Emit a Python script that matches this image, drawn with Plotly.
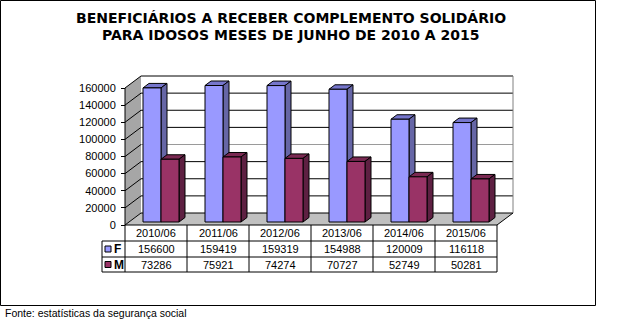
import plotly.graph_objects as go

# ---- data -------------------------------------------------------------
periods = ["2010/06", "2011/06", "2012/06", "2013/06", "2014/06", "2015/06"]
fem = [156600, 159419, 159319, 154988, 120009, 116118]
masc = [73286, 75921, 74274, 70727, 52749, 50281]
y_ticks = [0, 20000, 40000, 60000, 80000, 100000, 120000, 140000, 160000]

title_lines = [
    "BENEFICIÁRIOS A RECEBER COMPLEMENTO SOLIDÁRIO",
    "PARA IDOSOS MESES DE JUNHO DE 2010 A 2015",
]
source_text = "Fonte: estatísticas da segurança social"

# ---- geometry of the pseudo-3D frame ------------------------------------
W, H = 628, 331
AX_X = 125            # front-left corner of the floor (px)
ZERO_Y = 225          # front zero line (px)
SLOT = 62             # px per category
PX_PER_UNIT = 137 / 160000
Y_TOP = y_ticks[-1]
FONT = "Liberation Sans, Arial, sans-serif"
TITLE_FONT = "DejaVu Sans, Arial, sans-serif"


def xd(px):
    return (px - AX_X) / SLOT - 0.5


def yd(py):
    return (ZERO_Y - py) / PX_PER_UNIT


def cdx(n):
    return n / SLOT


def vdy(n):
    return n / PX_PER_UNIT


def yp(py):
    return 1 - py / H


def xp(px):
    return px / W


DWX, DWY = cdx(16), vdy(12)      # wall depth
BX, BY = cdx(5), vdy(3)          # bar front-face offset into the depth
SX, SY = cdx(6), vdy(4.5)        # bar thickness in depth
HALF = 18 / SLOT                 # bar width in category units
xL, xR = -0.5, len(periods) - 0.5

fig = go.Figure()


def add_faces(values, left_off, front, side, top):
    fx, fy, sx_, sy_, tx, ty = [], [], [], [], [], []
    for i, v in enumerate(values):
        a = i + left_off + BX
        b = a + HALF
        y0, y1 = BY, v + BY
        fx += [a, b, b, a, a, None]
        fy += [y0, y0, y1, y1, y0, None]
        sx_ += [b, b + SX, b + SX, b, b, None]
        sy_ += [y0, y0 + SY, y1 + SY, y1, y0, None]
        tx += [a, b, b + SX, a + SX, a, None]
        ty += [y1, y1, y1 + SY, y1 + SY, y1, None]
    for xs, ys, col in ((tx, ty, top), (sx_, sy_, side), (fx, fy, front)):
        fig.add_trace(go.Scatter(
            x=xs, y=ys, mode="lines", fill="toself", fillcolor=col,
            line=dict(color="black", width=1), hoverinfo="skip",
            showlegend=False,
        ))


add_faces(fem, -HALF, "#9999FF", "#6666A6", "#7676CC")
add_faces(masc, 0, "#993366", "#5E2042", "#7A2952")

shapes = []


def line(x0, y0, x1, y1, color="black", layer="below", xref="x", yref="y", width=1):
    shapes.append(dict(type="line", x0=x0, y0=y0, x1=x1, y1=y1, xref=xref,
                       yref=yref, layer=layer,
                       line=dict(color=color, width=width)))


# walls and floor
shapes.append(dict(type="path", xref="x", yref="y", layer="below",
                   path=f"M {xL},0 L {xL},{Y_TOP} L {xL+DWX},{Y_TOP+DWY} L {xL+DWX},{DWY} Z",
                   fillcolor="#A6A6A6", line=dict(width=0)))
shapes.append(dict(type="path", xref="x", yref="y", layer="below",
                   path=f"M {xL},0 L {xR},0 L {xR+DWX},{DWY} L {xL+DWX},{DWY} Z",
                   fillcolor="#C0C0C0", line=dict(width=0)))
shapes.append(dict(type="rect", xref="x", yref="y", layer="below",
                   x0=xL + DWX, x1=xR + DWX, y0=DWY, y1=Y_TOP + DWY,
                   fillcolor="white", line=dict(width=0)))
for v in y_ticks:
    col = "#9A9A9A" if v == 80000 else "black"
    line(xL + DWX, v + DWY, xR + DWX, v + DWY, color=col)
    line(xL, v, xL + DWX, v + DWY)
line(xR + DWX, DWY, xR + DWX, Y_TOP + DWY, color="#808080")
line(xR, 0, xR + DWX, DWY)
line(xL, 0, xL, Y_TOP)

# data table grid
row_y = [ZERO_Y, 241, 257, 272]
line(xL, 0, xR, 0, layer="above")
lab_x = xd(102)
for py in row_y[1:]:
    line(lab_x, yp(py), xR, yp(py), layer="above", yref="paper")
for k in range(len(periods) + 1):
    line(xL + k, yp(ZERO_Y), xL + k, yp(row_y[-1]), layer="above", yref="paper")
line(lab_x, yp(row_y[1]), lab_x, yp(row_y[-1]), layer="above", yref="paper")

annotations = []


def text(x, y, s, size=11, bold=False, xref="x", yref="paper",
         xanchor="center", family=FONT):
    annotations.append(dict(
        x=x, y=y, xref=xref, yref=yref, text=f"<b>{s}</b>" if bold else s,
        showarrow=False, xanchor=xanchor, yanchor="middle",
        font=dict(family=family, size=size, color="black"),
    ))


row_mid = [(row_y[j] + row_y[j + 1]) / 2 for j in range(3)]
for i, p in enumerate(periods):
    text(i, yp(row_mid[0]), p)
    text(i, yp(row_mid[1]), str(fem[i]))
    text(i, yp(row_mid[2]), str(masc[i]))

# series keys in the table
for j, (name, col) in enumerate((("F", "#9999FF"), ("M", "#993366"))):
    cy = row_mid[j + 1]
    shapes.append(dict(type="rect", xref="x", yref="paper", layer="above",
                       x0=xd(105), x1=xd(111), y0=yp(cy + 3), y1=yp(cy - 3),
                       fillcolor=col, line=dict(color="black", width=1)))
    text(xd(112), yp(cy), name, size=12, bold=True, xanchor="left")

# title and source
text(xp(291), yp(18), title_lines[0], size=14, bold=True, xref="paper",
     family=TITLE_FONT)
text(xp(291), yp(35), title_lines[1], size=14, bold=True, xref="paper",
     family=TITLE_FONT)
text(xp(3), yp(313), source_text, size=10.5, xref="paper", xanchor="left")

# outer frame
shapes.append(dict(type="rect", xref="paper", yref="paper", layer="above",
                   x0=xp(0.5), x1=xp(595.5), y0=yp(0.5), y1=yp(305.5),
                   line=dict(color="black", width=1)))

fig.update_layout(
    width=W, height=H, margin=dict(l=0, r=0, t=0, b=0),
    paper_bgcolor="white", plot_bgcolor="white",
    showlegend=False, shapes=shapes, annotations=annotations,
    xaxis=dict(range=[xd(0), xd(W)], visible=False, domain=[0, 1]),
    yaxis=dict(
        range=[yd(H), yd(0)], domain=[0, 1], anchor="free", position=xp(AX_X),
        tickmode="array", tickvals=y_ticks, ticktext=[str(v) for v in y_ticks],
        ticks="outside", ticklen=4, tickcolor="black", showgrid=False,
        zeroline=False, showline=False, ticklabelstandoff=3,
        tickfont=dict(family=FONT, size=11, color="black"),
    ),
)

fig.write_html("out.html")
